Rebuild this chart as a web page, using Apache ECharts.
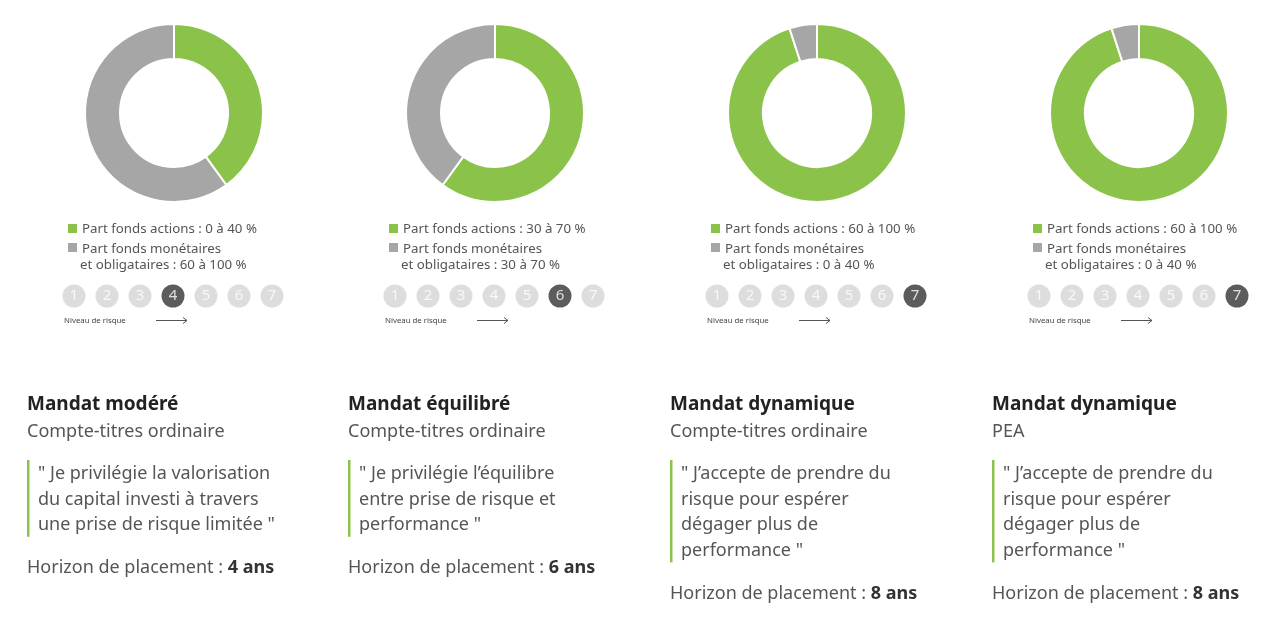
<!DOCTYPE html>
<html>
<head>
<meta charset="utf-8">
<script src="https://cdn.jsdelivr.net/npm/echarts@6/dist/echarts.min.js"></script>
<style>
html,body{margin:0;padding:0;background:#fff;}
#chart{width:1280px;height:622px;}
</style>
</head>
<body>
<div id="chart"></div>
<script>
// ---- data ----
const titles = ['Mandat modéré', 'Mandat équilibré', 'Mandat dynamique', 'Mandat dynamique'];
const subtitles = ['Compte-titres ordinaire', 'Compte-titres ordinaire', 'Compte-titres ordinaire', 'PEA'];
const quotes = [
  ['" Je privilégie la valorisation', 'du capital investi à travers', 'une prise de risque limitée "'],
  ['" Je privilégie l\u2019équilibre', 'entre prise de risque et', 'performance "'],
  ['" J\u2019accepte de prendre du', 'risque pour espérer', 'dégager plus de', 'performance "'],
  ['" J\u2019accepte de prendre du', 'risque pour espérer', 'dégager plus de', 'performance "']
];
const horizons = ['4 ans', '6 ans', '8 ans', '8 ans'];
const actionsRanges = ['0 à 40 %', '30 à 70 %', '60 à 100 %', '60 à 100 %'];
const monetaryRanges = ['60 à 100 %', '30 à 70 %', '0 à 40 %', '0 à 40 %'];
const actionsShare = [40, 60, 95, 95];
const monetaryShare = [60, 40, 5, 5];
const riskLevels = [4, 6, 7, 7];
const riskScale = ['1', '2', '3', '4', '5', '6', '7'];
const sliceNames = ['Part fonds actions', 'Part fonds monétaires et obligataires'];

// ---- layout / style ----
const GREEN = '#8bc34a', GREY = '#a6a6a6';
const FONT = '"Noto Sans", sans-serif';
const colX = [0, 321, 643, 965];

const chart = echarts.init(document.getElementById('chart'));
const series = [], grids = [], xAxes = [], yAxes = [], graphics = [];

for (let i = 0; i < 4; i++) {
  const o = colX[i];
  series.push({
    type: 'pie',
    center: [174 + o, 113],
    radius: [54, 89],
    startAngle: 90,
    clockwise: true,
    silent: true,
    label: {show: false},
    labelLine: {show: false},
    itemStyle: {borderColor: '#fff', borderWidth: 2},
    data: [
      {name: sliceNames[0], value: actionsShare[i], itemStyle: {color: GREEN}},
      {name: sliceNames[1], value: monetaryShare[i], itemStyle: {color: GREY}}
    ]
  });

  grids.push({left: 57.5 + o, top: 285, width: 231, height: 22});
  xAxes.push({type: 'category', gridIndex: i, data: riskScale, show: false});
  yAxes.push({type: 'value', gridIndex: i, min: 0, max: 2, show: false});
  series.push({
    type: 'scatter',
    xAxisIndex: i, yAxisIndex: i,
    symbol: 'circle',
    symbolSize: 23,
    silent: true,
    data: riskScale.map(function (c) {
      const active = Number(c) === riskLevels[i];
      return {value: [c, 1], itemStyle: {color: active ? '#333333' : '#d5d5d5'}};
    }),
    label: {
      show: true, position: 'inside',
      formatter: function (p) { return p.value[0]; },
      color: '#fff', fontFamily: FONT, fontSize: 15
    }
  });

  // legend
  graphics.push({type: 'rect', shape: {x: 68 + o, y: 224, width: 9, height: 9}, style: {fill: GREEN}});
  graphics.push({type: 'text', x: 82 + o, y: 229, style: {text: sliceNames[0] + ' : ' + actionsRanges[i], fill: '#555', font: '13.3px ' + FONT, verticalAlign: 'middle'}});
  graphics.push({type: 'rect', shape: {x: 68 + o, y: 243, width: 9, height: 9}, style: {fill: GREY}});
  graphics.push({type: 'text', x: 82 + o, y: 249, style: {text: 'Part fonds monétaires', fill: '#555', font: '13.3px ' + FONT, verticalAlign: 'middle'}});
  graphics.push({type: 'text', x: 80 + o, y: 265, style: {text: 'et obligataires : ' + monetaryRanges[i], fill: '#555', font: '13.3px ' + FONT, verticalAlign: 'middle'}});

  // risk caption + arrow
  graphics.push({type: 'text', x: 64 + o, y: 320.5, style: {text: 'Niveau de risque', fill: '#444', font: '7.8px ' + FONT, verticalAlign: 'middle'}});
  graphics.push({type: 'line', shape: {x1: 156 + o, y1: 320.5, x2: 187 + o, y2: 320.5}, style: {stroke: '#555', lineWidth: 1}});
  graphics.push({type: 'polyline', shape: {points: [[183 + o, 317.5], [187 + o, 320.5], [183 + o, 323.5]]}, style: {stroke: '#555', lineWidth: 1, fill: null}});

  // text block
  const tx = 27 + o;
  graphics.push({type: 'text', x: tx, y: 405, style: {text: titles[i], fill: '#222', font: 'bold 19px ' + FONT, verticalAlign: 'middle'}});
  graphics.push({type: 'text', x: tx, y: 431.5, style: {text: subtitles[i], fill: '#555', font: '18px ' + FONT, verticalAlign: 'middle'}});
  const n = quotes[i].length;
  graphics.push({type: 'rect', shape: {x: tx, y: 460, width: 2.5, height: 25.6 * n}, style: {fill: GREEN}});
  quotes[i].forEach(function (line, k) {
    graphics.push({type: 'text', x: tx + 11, y: 474 + 25.6 * k, style: {text: line, fill: '#555', font: '18px ' + FONT, verticalAlign: 'middle'}});
  });
  graphics.push({type: 'text', x: tx, y: 474 + 25.6 * n + 17, style: {
    text: '{n|Horizon de placement : }{b|' + horizons[i] + '}',
    verticalAlign: 'middle',
    rich: {
      n: {fill: '#555', font: '18px ' + FONT},
      b: {fill: '#333', font: 'bold 18px ' + FONT}
    }
  }});
}

chart.setOption({
  animation: false,
  backgroundColor: '#fff',
  grid: grids,
  xAxis: xAxes,
  yAxis: yAxes,
  series: series,
  graphic: graphics
});
</script>
</body>
</html>
